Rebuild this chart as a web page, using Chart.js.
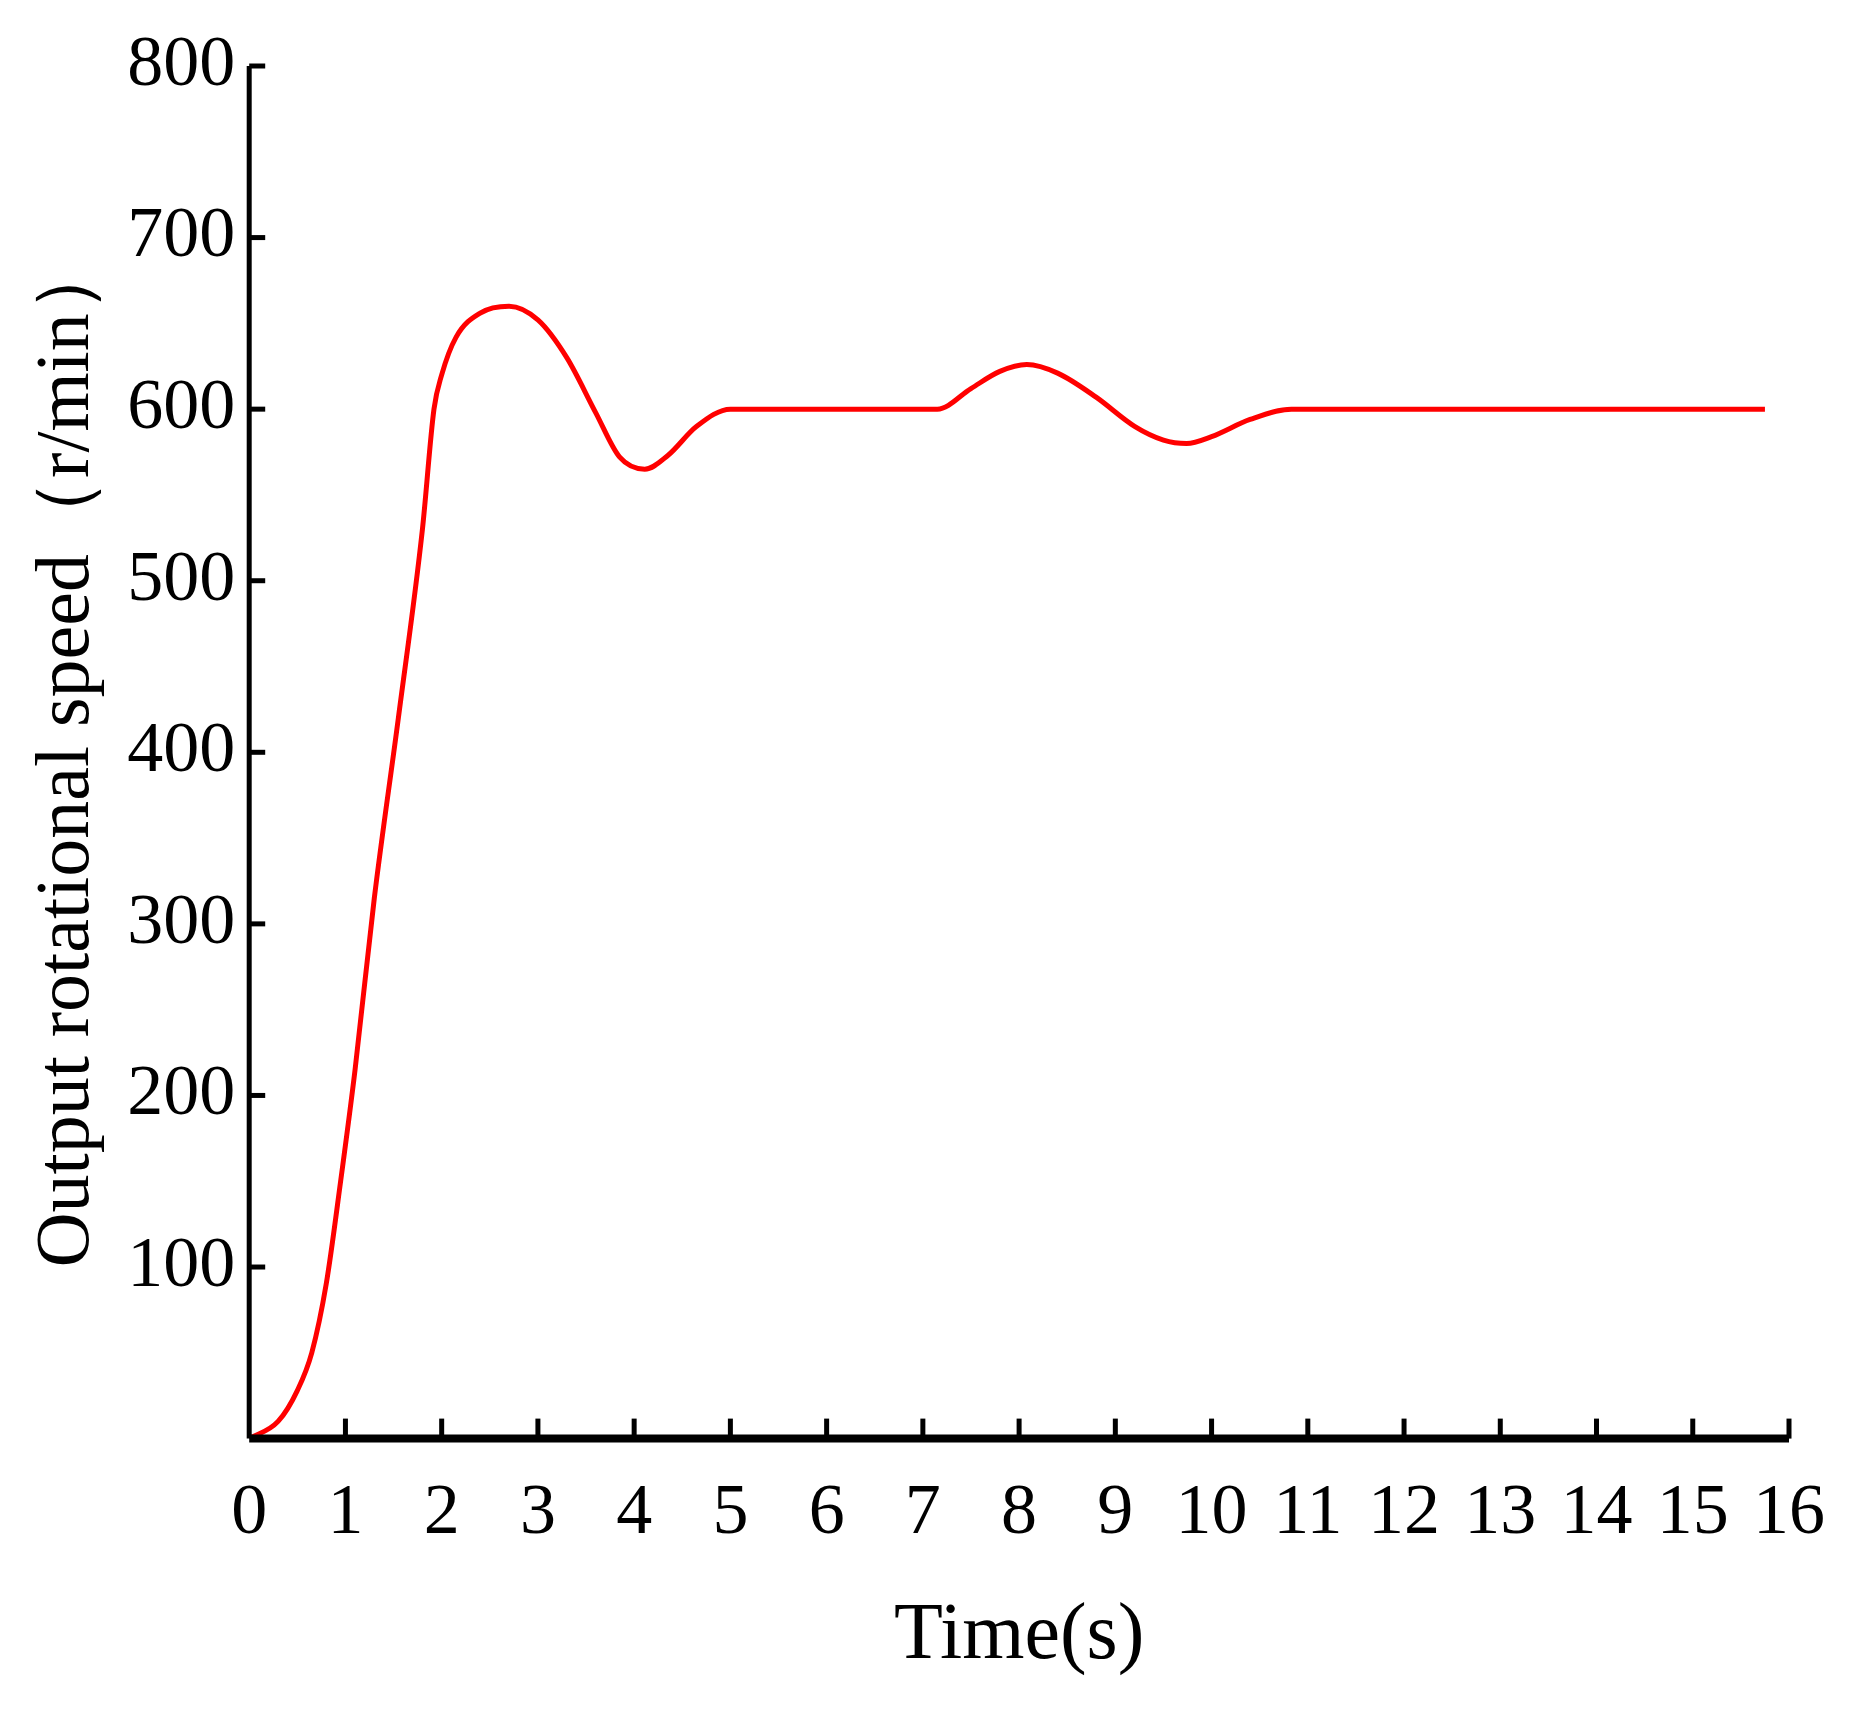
<!DOCTYPE html>
<html>
<head>
<meta charset="utf-8">
<script src="https://cdn.jsdelivr.net/npm/chart.js@4"></script>
<style>
  html, body { margin: 0; padding: 0; background: #fff; }
  #wrap { width: 1869px; height: 1715px; }
</style>
</head>
<body>
<div id="wrap"><canvas id="myChart"></canvas></div>
<script>
var timeValues = [0, 0.3, 0.5, 0.65, 0.8, 0.95, 1.1, 1.3, 1.55, 1.8, 1.92, 2.0, 2.15, 2.4, 2.7, 3.0, 3.3, 3.6, 3.85, 4.11, 4.35, 4.65, 5.0, 7.15, 7.5, 7.8, 8.08, 8.4, 8.8, 9.2, 9.5, 9.74, 10.0, 10.4, 10.83, 15.75];
var speedValues = [0, 10, 28, 50, 90, 150, 215, 315, 420, 530, 600, 620, 642, 656, 660, 652, 630, 598, 572, 565, 573, 590, 600, 600, 612, 622, 626, 621, 607, 590, 582, 580, 584, 594, 600, 600];
var yTicks = [100, 200, 300, 400, 500, 600, 700, 800];

var serif = "'Liberation Serif', 'DejaVu Serif', serif";

// inward tick marks, drawn from the library's scales
var innerTicks = {
  id: "innerTicks",
  afterDraw(chart) {
    const ctx = chart.ctx, x = chart.scales.x, y = chart.scales.y;
    const area = chart.chartArea;
    ctx.save();
    ctx.strokeStyle = "#000";
    ctx.lineWidth = 5;
    for (let t = 1; t <= 16; t++) {
      const px = x.getPixelForValue(t);
      ctx.beginPath(); ctx.moveTo(px, area.bottom); ctx.lineTo(px, area.bottom - 20); ctx.stroke();
    }
    yTicks.forEach(v => {
      const py = y.getPixelForValue(v);
      ctx.beginPath(); ctx.moveTo(area.left, py); ctx.lineTo(area.left + 16, py); ctx.stroke();
    });
    ctx.lineWidth = 8;
    ctx.beginPath(); ctx.moveTo(area.left, area.bottom); ctx.lineTo(area.right, area.bottom); ctx.stroke();
    ctx.lineWidth = 5;
    ctx.beginPath(); ctx.moveTo(area.left, area.bottom); ctx.lineTo(area.left, area.top); ctx.stroke();
    ctx.restore();
  }
};

new Chart("myChart", {
  type: "line",
  data: {
    datasets: [{
      data: timeValues.map((t, i) => ({x: t, y: speedValues[i]})),
      borderColor: "#ff0000",
      borderWidth: 5,
      pointRadius: 0,
      cubicInterpolationMode: "monotone",
      fill: false
    }]
  },
  options: {
    responsive: true,
    maintainAspectRatio: false,
    animation: false,
    layout: {padding: {top: 66, right: 80, left: 22, bottom: 30}},
    plugins: {legend: {display: false}, tooltip: {enabled: false}},
    scales: {
      x: {
        type: "linear", min: 0, max: 16,
        grid: {display: false, drawTicks: false},
        border: {display: false},
        ticks: {stepSize: 1, color: "#000", padding: 32, font: {family: serif, size: 72}},
        title: {display: true, text: "Time(s)", color: "#000", padding: 0, font: {family: serif, size: 80}}
      },
      y: {
        min: 0, max: 800,
        grid: {display: false, drawTicks: false},
        border: {display: false},
        ticks: {stepSize: 100, color: "#000", padding: 14, font: {family: serif, size: 72},
          callback: v => v === 0 ? "" : v},
        title: {display: true, text: "Output rotational speed（r/min）", color: "#000", padding: 0, font: {family: serif, size: 76}}
      }
    }
  },
  plugins: [innerTicks]
});
</script>
</body>
</html>
